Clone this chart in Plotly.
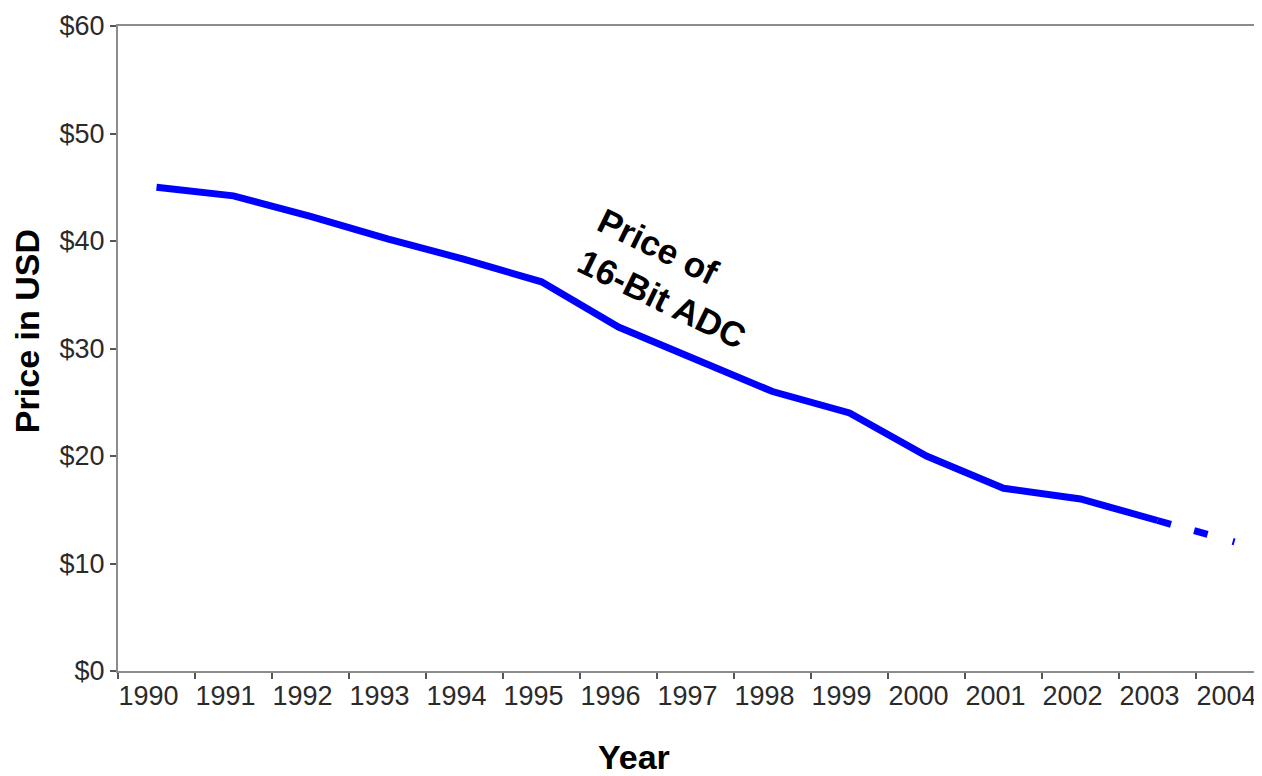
import plotly.graph_objects as go

years = ["1990", "1991", "1992", "1993", "1994", "1995", "1996", "1997",
         "1998", "1999", "2000", "2001", "2002", "2003", "2004"]
price = [45.0, 44.2, 42.3, 40.2, 38.3, 36.2, 32.0, 29.0,
         26.0, 24.0, 20.0, 17.0, 16.0, 14.0, 12.0]
y_ticks = [0, 10, 20, 30, 40, 50, 60]
y_tick_text = ["$" + str(v) for v in y_ticks]
label_text = "Price of<br>16-Bit ADC"

FONT = "Liberation Sans, Arial, sans-serif"
BLUE = "#0000FF"
GRAY = "#8c8c8c"

fig = go.Figure()
# solid part (measured years)
fig.add_trace(go.Scatter(x=years[:-1], y=price[:-1], mode="lines",
                         line=dict(color=BLUE, width=7), showlegend=False,
                         hoverinfo="x+y"))
# projected part (dashed)
fig.add_trace(go.Scatter(x=years[-2:], y=price[-2:], mode="lines",
                         line=dict(color=BLUE, width=7,
                                   dash="14px,24px,14px,26px,4px,20px"),
                         showlegend=False, hoverinfo="x+y"))

fig.update_layout(
    width=1254, height=768,
    margin=dict(l=110, r=0, t=18, b=105),
    paper_bgcolor="white", plot_bgcolor="white",
    font=dict(family=FONT, size=27, color="#2a2a2a"),
    xaxis=dict(
        type="category", categoryorder="array", categoryarray=years,
        range=[-0.5, 14.357],
        showgrid=False, zeroline=False,
        showline=True, linecolor=GRAY, linewidth=2, mirror=True,
        ticks="outside", tickson="boundaries", ticklen=6, tickwidth=2,
        tickcolor="#555555",
        tickfont=dict(family=FONT, size=27, color="#2a2a2a"),
        ticklabelshift=-8, ticklabelstandoff=0,
    ),
    yaxis=dict(
        range=[0, 60], tickmode="array", tickvals=y_ticks, ticktext=y_tick_text,
        showgrid=False, zeroline=False,
        showline=True, linecolor=GRAY, linewidth=2,
        ticks="outside", ticklen=6, tickwidth=2, tickcolor="#555555",
        tickfont=dict(family=FONT, size=27, color="#2a2a2a"),
        ticklabelstandoff=0,
    ),
    annotations=[
        dict(text="<b>Price in USD</b>", xref="paper", yref="paper",
             x=-0.0795, y=0.527, textangle=-90, showarrow=False,
             xanchor="center", yanchor="middle",
             font=dict(family=FONT, size=34, color="black")),
        dict(text="<b>Year</b>", xref="paper", yref="paper",
             x=0.451, y=-0.134, showarrow=False,
             xanchor="center", yanchor="middle",
             font=dict(family=FONT, size=34, color="black")),
        dict(text="<b>" + label_text + "</b>", xref="paper", yref="paper",
             x=0.484, y=0.608, textangle=26, showarrow=False, align="left",
             xanchor="center", yanchor="middle",
             font=dict(family=FONT, size=35, color="black")),
    ],
)

fig.write_html("out.html")
